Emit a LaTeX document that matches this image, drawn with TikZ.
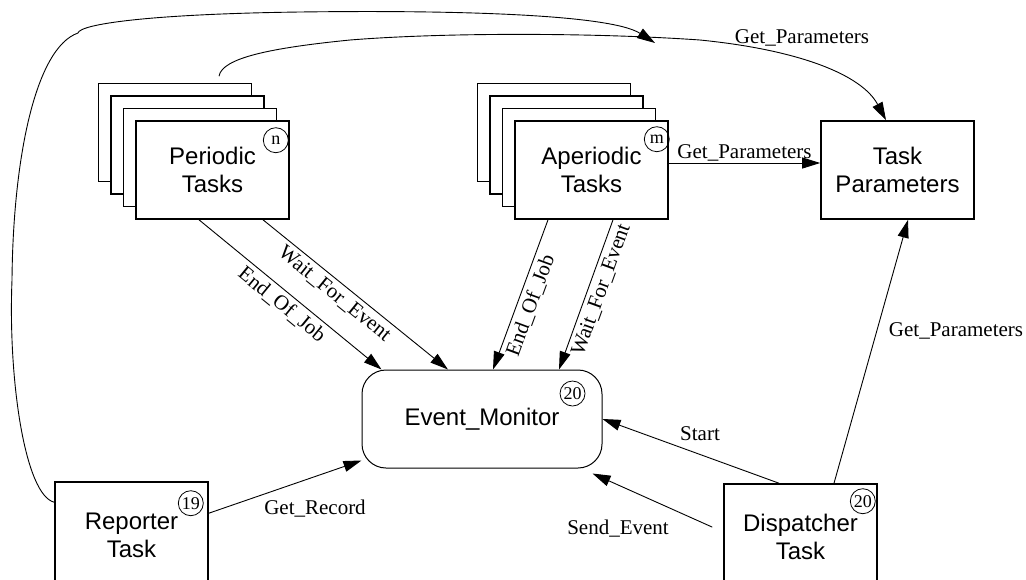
\documentclass[tikz,border=0pt]{standalone}
\usepackage{fontspec}
\setmainfont{Liberation Serif}
\setsansfont{Liberation Sans}
\usetikzlibrary{arrows.meta,calc}

\tikzset{
  taskbox/.style={draw, fill=white, line width=0.8pt, minimum width=76.5pt, minimum height=49pt,
    align=center, font=\sffamily\fontsize{12}{14}\selectfont},
  lowbox/.style={taskbox, minimum height=53pt},
  monbox/.style={draw, line width=0.5pt, rounded corners=12pt, minimum width=120pt, minimum height=49pt,
    font=\sffamily\fontsize{12}{14}\selectfont},
  numcirc/.style={draw, circle, line width=0.4pt, minimum size=12.5pt, inner sep=0pt,
    font=\fontsize{9}{9}\selectfont},
  flow/.style={line width=0.45pt, -{Triangle[length=9pt,width=5.5pt]}},
  lbl/.style={font=\fontsize{10.5}{12}\selectfont, inner sep=1pt},
}

\begin{document}
\begin{tikzpicture}[x=0.5pt,y=-0.5pt]
\useasboundingbox (0,0) rectangle (1026,579);
\clip (0,0) rectangle (1026,579);

% stacks behind the task boxes
\foreach \k in {3,2,1} {
  \node[taskbox] (per\k) at (212.5-12.5*\k,170-12.5*\k) {};
  \node[taskbox] (ap\k) at (591.5-12.5*\k,170-12.5*\k) {};
}
\node[taskbox] (per) at (212.5,170) {Periodic\\Tasks};
\node[taskbox] (ap) at (591.5,170) {Aperiodic\\Tasks};
\node[taskbox] (tp) at (897.5,170) {Task\\Parameters};
\node[monbox] (em) at (482,419) {Event\_Monitor};
\node[lowbox] (rep) at (131.5,535) {Reporter\\Task};
\node[lowbox] (disp) at (800.5,537) {Dispatcher\\Task};

% counts
\node[numcirc] (ncirc) at ($(per.north east)+(-14,20)$) {n};
\node[numcirc] (mcirc) at ($(ap.north east)+(-12,19)$) {m};
\node[numcirc] (emcirc) at ($(em.north east)+(-30,24)$) {20};
\node[numcirc] (repcirc) at ($(rep.north east)+(-18,22)$) {19};
\node[numcirc] (dispcirc) at ($(disp.north east)+(-15,18)$) {20};

% events
\draw[flow] ($(per.south)+(-13.5,0)$) -- node[lbl, sloped, below=1pt, pos=0.5] {End\_Of\_Job} ($(em.north west)+(20,0)$);
\draw[flow] ($(per.south)+(50.5,0)$) -- node[lbl, sloped, below=1pt, pos=0.43] {Wait\_For\_Event} ($(em.north)+(-34,0)$);
\draw[flow] ($(ap.south)+(-43.5,0)$) -- node[lbl, sloped, below=1pt, pos=0.54] {End\_Of\_Job} ($(em.north)+(11,0)$);
\draw[flow] ($(ap.south)+(21.5,0)$) -- node[lbl, sloped, below=1pt, pos=0.44] {Wait\_For\_Event} ($(em.north)+(77,0)$);
\draw[flow] ($(rep.north east)+(0,32)$) -- ($(em.south west)+(0,-8)$);
\node[lbl] (grec) at (315,509) {Get\_Record};
\draw[flow] ($(disp.north)+(-21.5,0)$) -- (em.east);
\node[lbl] (start) at (700,434) {Start};
\draw[flow, shorten <=6pt] ($(disp.west)+(0,-5)$) -- ($(em.south east)+(-10,5)$);
\node[lbl] (sev) at (618,529) {Send\_Event};

% parameters
\draw[flow] ($(ap.east)+(0,-7)$) -- node[lbl, above=-0.5pt] {Get\_Parameters} ($(tp.west)+(0,-7)$);
\draw[flow] ($(disp.north)+(33.5,0)$) -- ($(tp.south)+(10.5,0)$);
\node[lbl] (gpd) at (956,331) {Get\_Parameters};
\draw[flow] ($(per3.north)+(44,-6.5)$) .. controls (222,58) and (270,48) .. (350,40)
  .. controls (450,32) and (600,33) .. (700,40) .. controls (800,50) and (862,75) .. ($(tp.north)+(-11.5,0)$);
\node[lbl] (gpp) at (802,38) {Get\_Parameters};
\coordinate (jn) at (655,43);
\draw[flow] ($(rep.north west)+(0,21)$) .. controls (25,495) and (8,380) .. (12,280)
  .. controls (13,160) and (35,48) .. (78,33) .. controls (80,24) and (150,14) .. (300,12)
  .. controls (450,10) and (610,14) .. (jn);
\end{tikzpicture}
\end{document}
